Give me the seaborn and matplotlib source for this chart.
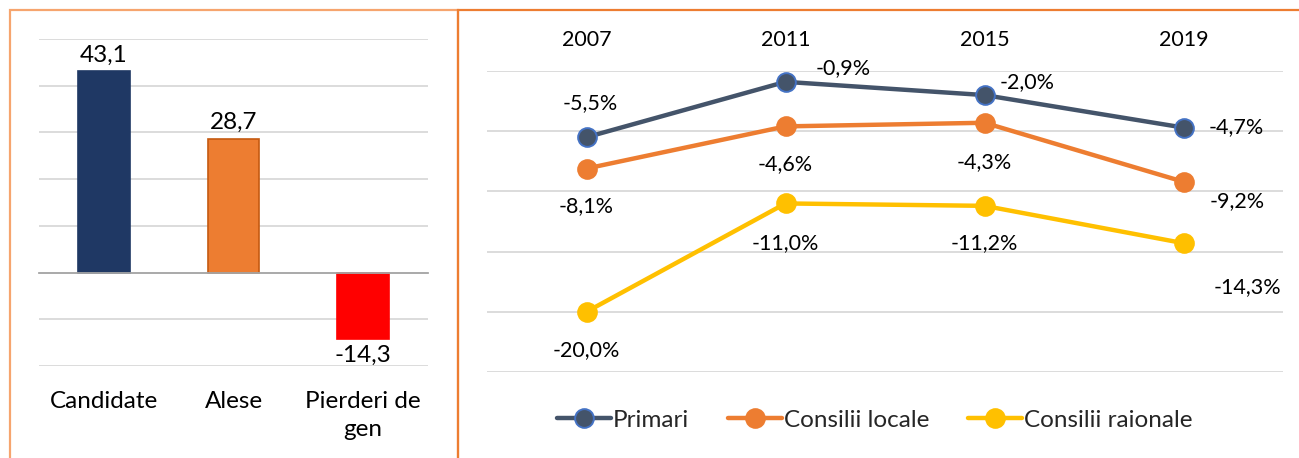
import matplotlib
matplotlib.use('Agg')
import numpy as np
import pandas as pd
import matplotlib.pyplot as plt
import seaborn as sns
from matplotlib.patches import Rectangle
from matplotlib.transforms import blended_transform_factory

# left panel: share of women (%)
bar_cats = ['Candidate', 'Alese', 'Pierderi de\ngen']
bar_vals = [43.1, 28.7, -14.3]
bar_colors = ['#1F3864', '#ED7D31', '#FF0000']
bar_edges = ['#1F3864', '#C55A11', '#FF0000']

# right panel: gender gap by election year
years = ['2007', '2011', '2015', '2019']
primari = [-5.5, -0.9, -2.0, -4.7]
consilii_locale = [-8.1, -4.6, -4.3, -9.2]
consilii_raionale = [-20.0, -11.0, -11.2, -14.3]
series_names = ['Primari', 'Consilii locale', 'Consilii raionale']
line_colors = ['#44546A', '#ED7D31', '#FFC000']
marker_edges = ['#4472C4', '#ED7D31', '#FFC000']

# label offsets in pixels (dx, dy), per series, per year
label_offsets = [
    [(4, 34), (58, 14), (43, 13), (53, 0)],
    [(0, -38), (0, -38), (0, -39), (54, -19)],
    [(0, -38), (0, -40), (0, -37), (64, -44)],
]

sns.set_theme(style='white')
plt.rcParams['font.family'] = ['Lato', 'DejaVu Sans']

fig = plt.figure(figsize=(12.99, 4.58), dpi=100)

# panel borders
fig.patches.append(Rectangle((10 / 1299, -0.05), 448 / 1299, 1.05 - 10 / 458,
                             transform=fig.transFigure, fill=False,
                             edgecolor='#F6A56E', linewidth=1.6, zorder=0))
fig.patches.append(Rectangle((458 / 1299, -0.05), 0.7, 1.05 - 10 / 458,
                             transform=fig.transFigure, fill=False,
                             edgecolor='#ED7D31', linewidth=1.6, zorder=1))

# ---- left: bars ----
ax1 = fig.add_axes([39 / 1299, 1 - 366 / 458, 389 / 1299, 327 / 458])
bar_df = pd.DataFrame({'cat': bar_cats, 'val': bar_vals})
sns.barplot(data=bar_df, x='cat', y='val', hue='cat', palette=bar_colors,
            saturation=1, width=0.4, legend=False, ax=ax1, zorder=3)
for patch, ec in zip(ax1.patches, bar_edges):
    patch.set_edgecolor(ec)
    patch.set_linewidth(1.2)
ax1.set_ylim(-20, 50)
ax1.set_xlim(-0.5, len(bar_cats) - 0.5)
ax1.set_yticks(np.arange(-20, 51, 10))
ax1.yaxis.grid(True, color='#D9D9D9', linewidth=1.3, zorder=0)
ax1.set_axisbelow(True)
ax1.tick_params(axis='y', left=False, labelleft=False)
for side in ['top', 'left', 'right']:
    ax1.spines[side].set_visible(False)
ax1.spines['bottom'].set_position(('data', 0))
ax1.spines['bottom'].set_color('#A6A6A6')
ax1.spines['bottom'].set_linewidth(1.3)
ax1.spines['bottom'].set_zorder(4)
ax1.set_xticks(np.arange(len(bar_cats) + 1) - 0.5)
ax1.tick_params(axis='x', direction='out', length=6, width=1.3,
                color='#A6A6A6', labelbottom=False)
ax1.set_xlabel('')
ax1.set_ylabel('')
for cont in ax1.containers:
    ax1.bar_label(cont, labels=[f'{v:.1f}'.replace('.', ',') for v in cont.datavalues],
                  padding=4, fontsize=17.5, color='black')
trans = blended_transform_factory(ax1.transData, ax1.transAxes)
for i, c in enumerate(bar_cats):
    ax1.text(i, -0.075, c, transform=trans, ha='center', va='top',
             fontsize=17.5, linespacing=1.45, color='black')

# ---- right: lines ----
ax2 = fig.add_axes([487 / 1299, 1 - 372 / 458, 796 / 1299, 301 / 458])
line_df = pd.DataFrame({
    'year': years * 3,
    'val': primari + consilii_locale + consilii_raionale,
    'series': np.repeat(series_names, len(years)),
})
sns.lineplot(data=line_df, x='year', y='val', hue='series', palette=line_colors,
             marker='o', markersize=13.5, linewidth=3.2, ax=ax2, legend=False,
             zorder=3)
for line, ec in zip(ax2.lines, marker_edges):
    line.set_markeredgecolor(ec)
    line.set_markeredgewidth(1.4)
ax2.set_xlim(-0.5, len(years) - 0.5)
ax2.set_ylim(-25, 0)
ax2.set_yticks(np.arange(-25, 1, 5))
ax2.yaxis.grid(True, color='#D9D9D9', linewidth=1.3, zorder=0)
ax2.set_axisbelow(True)
ax2.tick_params(axis='y', left=False, labelleft=False)
for side in ax2.spines:
    ax2.spines[side].set_visible(False)
ax2.xaxis.tick_top()
ax2.tick_params(axis='x', length=0, pad=15, labelsize=15.5, labelcolor='black')
ax2.set_xlabel('')
ax2.set_ylabel('')

all_vals = [primari, consilii_locale, consilii_raionale]
for s, vals in enumerate(all_vals):
    for i, v in enumerate(vals):
        dx, dy = label_offsets[s][i]
        ax2.annotate(f'{v:.1f}%'.replace('.', ','), (i, v), xytext=(dx, dy),
                     textcoords='offset pixels', ha='center', va='center',
                     fontsize=15.5, color='black')

handles = [plt.Line2D([], [], color=c, linewidth=3.2, marker='o', markersize=13.5,
                      markeredgecolor=e, markeredgewidth=1.4)
           for c, e in zip(line_colors, marker_edges)]
fig.legend(handles, series_names, loc='center', bbox_to_anchor=(875 / 1299, 1 - 420 / 458),
           ncol=3, frameon=False, fontsize=17.5, handlelength=2.2, handletextpad=0.1,
           columnspacing=1.6)

fig.savefig('out.png', dpi=100)
